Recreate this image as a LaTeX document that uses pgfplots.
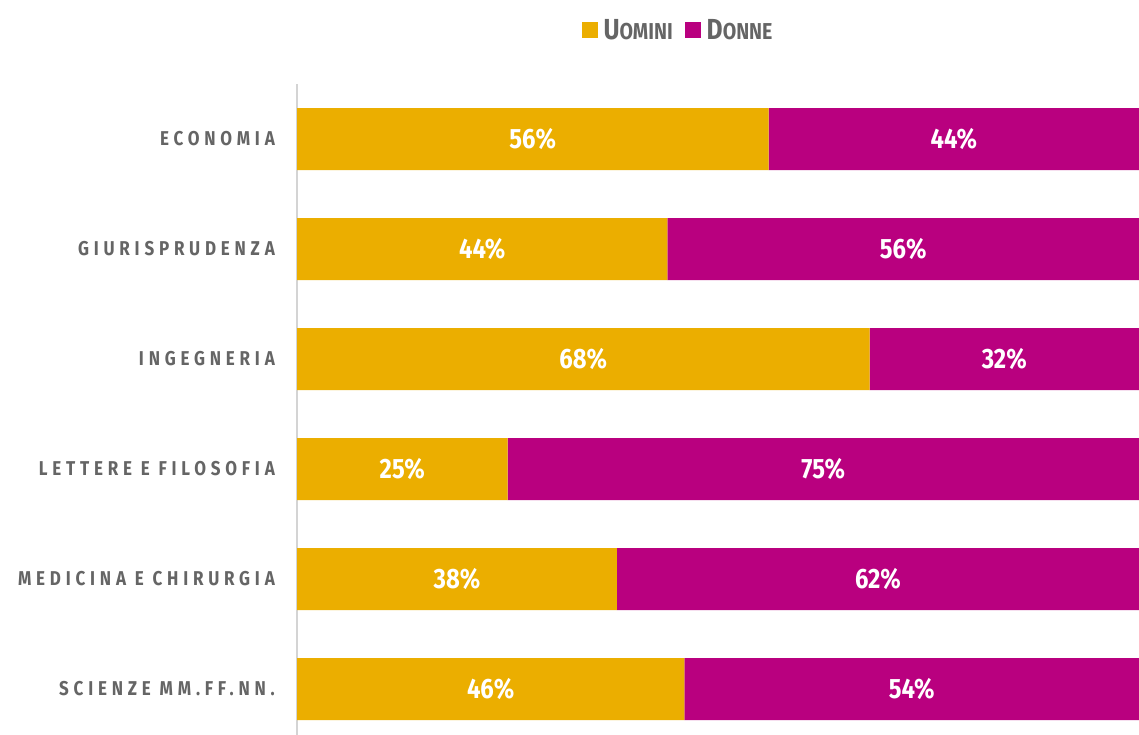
\documentclass[border=0pt]{standalone}
\usepackage{pgfplots}
\pgfplotsset{compat=1.18}
\usepackage{pgfplotstable}
\usepackage{fontspec}
\setmainfont{Fira Sans}[FakeStretch=0.85]
\newfontfamily\catfont{Fira Sans}[FakeStretch=0.85, LetterSpace=24]
\definecolor{gold}{HTML}{EBAE00}
\definecolor{mag}{HTML}{B9007F}
\definecolor{lab}{HTML}{656565}
\definecolor{axl}{HTML}{D4D4D4}

\pgfplotstableread{
idx uomini donne
0 56 44
1 44 56
2 68 32
3 25 75
4 38 62
5 46 54
}\datatable

\pgfplotstableread{
idx xu lu xd ld
0 28 56 78 44
1 22 44 72 56
2 34 68 84 32
3 12.5 25 62.5 75
4 19 38 69 62
5 23 46 73 54
}\labtable

\begin{document}
\begin{tikzpicture}
\useasboundingbox (0,0) rectangle (1139pt,735pt);
\begin{axis}[
  at={(297pt,-9pt)}, anchor=south west,
  scale only axis, width=842pt, height=660pt,
  xmin=0, xmax=100, ymin=-0.5, ymax=5.5, y dir=reverse,
  xbar stacked, bar width=62pt,
  axis x line=none, axis y line*=left,
  y axis line style={-, draw=axl, line width=2pt},
  major tick length=0pt,
  ytick={0,1,2,3,4,5},
  yticklabels={ECONOMIA,GIURISPRUDENZA,INGEGNERIA,LETTERE E FILOSOFIA,MEDICINA E CHIRURGIA,SCIENZE MM.FF.NN.},
  yticklabel style={font=\catfont\bfseries\fontsize{20}{20}\selectfont, text=lab, inner sep=0pt, xshift=-22pt},
  legend style={at={(0.4525,1.082)}, anchor=center, draw=none, fill=none,
    legend columns=2, font=\bfseries\fontsize{29}{29}\selectfont, text=lab,
    /tikz/every even column/.append style={column sep=10pt}},
  legend cell align=left,
]
\addplot[fill=gold, draw=none,
  legend image code/.code={\fill[gold] (0pt,-8pt) rectangle (16pt,8pt);}]
  table[x=uomini, y=idx]{\datatable};
\addlegendentry{\hspace{4pt}U{\fontsize{23}{23}\selectfont OMINI}}
\addplot[fill=mag, draw=none,
  legend image code/.code={\fill[mag] (0pt,-8pt) rectangle (16pt,8pt);}]
  table[x=donne, y=idx]{\datatable};
\addlegendentry{\hspace{4pt}D{\fontsize{23}{23}\selectfont ONNE}}
\end{axis}
\begin{axis}[
  at={(297pt,-9pt)}, anchor=south west,
  scale only axis, width=842pt, height=660pt,
  xmin=0, xmax=100, ymin=-0.5, ymax=5.5, y dir=reverse,
  hide axis,
  nodes near coords={\pgfmathprintnumber[assume math mode=true]{\pgfplotspointmeta}\%},
  nodes near coords align={center},
  every node near coord/.style={text=white, font=\bfseries\fontsize{28}{28}\selectfont, anchor=center},
]
\addplot[draw=none, mark=none, point meta=\thisrow{lu}] table[x=xu, y=idx]{\labtable};
\addplot[draw=none, mark=none, point meta=\thisrow{ld}] table[x=xd, y=idx]{\labtable};
\end{axis}
\end{tikzpicture}
\end{document}
